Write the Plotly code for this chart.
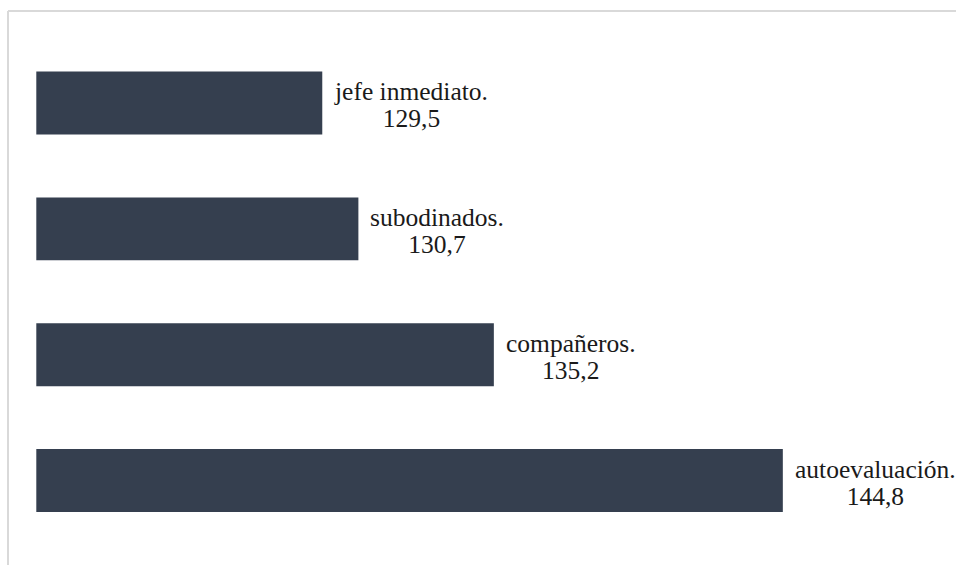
import plotly.graph_objects as go

# Puntajes promedio por fuente de evaluación
categorias = ["autoevaluación.", "compañeros.", "subodinados.", "jefe inmediato."]
valores = [144.8, 135.2, 130.7, 129.5]
etiquetas_valor = ["144,8", "135,2", "130,7", "129,5"]

color_barra = "#353f4f"
fuente = "Times New Roman, Liberation Serif, DejaVu Serif, serif"
tam_texto = 25.5    # tamaño visible de las etiquetas
tam_base = 21       # fija el interlineado (1.3 * tam_base)

fig = go.Figure(
    go.Bar(
        x=valores,
        y=categorias,
        orientation="h",
        marker=dict(color=color_barra, line=dict(width=0)),
        width=0.5,
        hoverinfo="skip",
    )
)


def linea(t):
    return f'<span style="font-size:{tam_texto}px">{t}</span>'


anotaciones = []
for cat, v, txt in zip(categorias, valores, etiquetas_valor):
    anotaciones.append(
        dict(
            x=v,
            y=cat,
            xref="x",
            yref="y",
            text=linea(cat) + "<br>" + linea(txt),
            showarrow=False,
            xanchor="left",
            yanchor="middle",
            align="center",
            xshift=10,
            yshift=-2,
            font=dict(family=fuente, size=tam_base, color="#1a1a1a"),
        )
    )

fig.update_layout(
    width=956,
    height=565,
    margin=dict(l=0, r=0, t=0, b=0),
    paper_bgcolor="white",
    plot_bgcolor="white",
    showlegend=False,
    annotations=anotaciones,
    xaxis=dict(
        range=[120, 150],
        domain=[36.3 / 956, 0.9826],
        visible=False,
        fixedrange=True,
    ),
    yaxis=dict(
        categoryorder="array",
        categoryarray=categorias,
        range=[-0.5, 3.5],
        domain=[0.0382, 0.929],
        visible=False,
        fixedrange=True,
    ),
    shapes=[
        dict(type="line", xref="paper", yref="paper", x0=8 / 956, x1=1.0,
             y0=1 - 11 / 565, y1=1 - 11 / 565,
             line=dict(color="#d9d9d9", width=2)),
        dict(type="line", xref="paper", yref="paper", x0=8 / 956, x1=8 / 956,
             y0=0, y1=1 - 11 / 565,
             line=dict(color="#d9d9d9", width=2)),
    ],
)

fig.write_html("out.html")
